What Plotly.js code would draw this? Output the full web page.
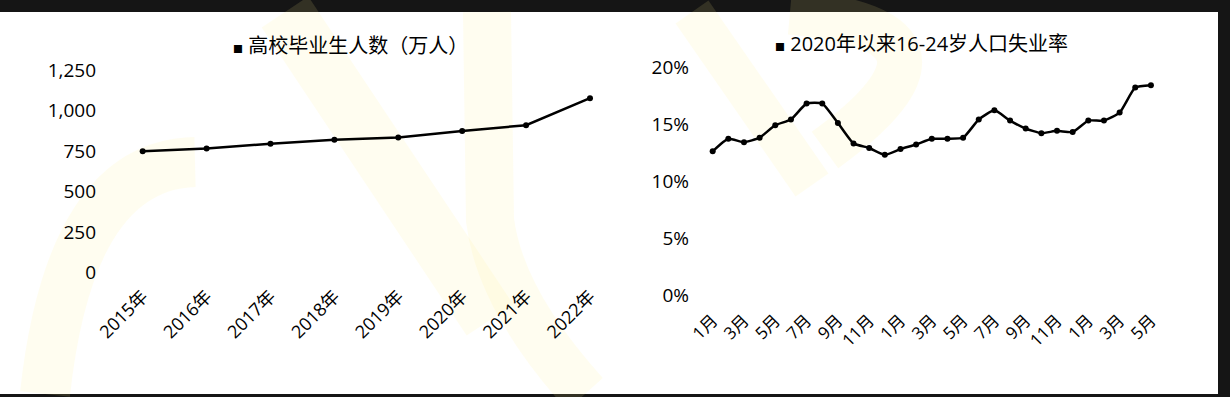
<!DOCTYPE html>
<html>
<head>
<meta charset="utf-8">
<script src="https://cdn.plot.ly/plotly-3.0.1.min.js"></script>
<style>
  html, body { margin: 0; padding: 0; background: #151515; }
  #chart { width: 1230px; height: 397px; }
</style>
</head>
<body>
<div id="chart"></div>
<script>
// ---- Data ----
const years = ['2015年', '2016年', '2017年', '2018年', '2019年', '2020年', '2021年', '2022年'];
const graduates = [749, 765, 795, 820, 834, 874, 909, 1076];

const months = ['1月','2月','3月','4月','5月','6月','7月','8月','9月','10月','11月','12月',
                '1月','2月','3月','4月','5月','6月','7月','8月','9月','10月','11月','12月',
                '1月','2月','3月','4月','5月'];
const unemployment = [12.6, 13.7, 13.4, 13.8, 14.9, 15.4, 16.8, 16.8, 15.1, 13.3, 12.9, 12.3,
                      12.8, 13.2, 13.7, 13.7, 13.8, 15.4, 16.2, 15.3, 14.6, 14.2, 14.4, 14.3,
                      15.3, 15.3, 16.0, 18.2, 18.4];

const gradTicks = [0, 250, 500, 750, 1000, 1250];
const rateTicks = [0, 5, 10, 15, 20];

const leftTitle = '高校毕业生人数（万人）';
const rightTitle = '2020年以来16-24岁人口失业率';

// ---- Helpers ----
const W = 1230, H = 397;
const px = v => v / W;
const py = v => 1 - v / H;

const monthIdx = months.map((m, i) => i);
const tickIdx = monthIdx.filter(i => i % 2 === 0);
const tickTxt = tickIdx.map(i => months[i]);

const FONT = '"Open Sans", "Noto Sans CJK SC", sans-serif';
const wm = 'rgba(255, 238, 140, 0.13)';

const traces = [
  {
    x: years, y: graduates, type: 'scatter', mode: 'lines+markers',
    xaxis: 'x', yaxis: 'y',
    line: { color: '#000000', width: 2.5 },
    marker: { color: '#000000', size: 6 },
    showlegend: false, hoverinfo: 'x+y'
  },
  {
    x: monthIdx, y: unemployment, type: 'scatter', mode: 'lines+markers',
    xaxis: 'x2', yaxis: 'y2',
    line: { color: '#000000', width: 2.5, shape: 'spline', smoothing: 0.5 },
    marker: { color: '#000000', size: 6 },
    showlegend: false, hoverinfo: 'y'
  }
];

const layout = {
  width: W, height: H,
  margin: { l: 0, r: 0, t: 0, b: 0 },
  paper_bgcolor: '#151515',
  plot_bgcolor: 'rgba(0,0,0,0)',
  font: { family: FONT, color: '#000000', size: 19 },
  xaxis: {
    domain: [px(100), px(620)],
    type: 'category',
    range: [-0.668, 7.47],
    showgrid: false, zeroline: false, showline: false, ticks: '',
    tickangle: -45, tickfont: { size: 18 },
    ticklabelstandoff: 8,
    anchor: 'y', fixedrange: true
  },
  yaxis: {
    domain: [py(273.3), py(69.2)],
    range: [-5, 1255],
    tickmode: 'array',
    tickvals: gradTicks,
    ticktext: gradTicks.map(v => v.toLocaleString('en-US')),
    showgrid: false, zeroline: false, showline: false, ticks: '',
    tickfont: { size: 19 },
    ticklabelstandoff: 3,
    anchor: 'x', fixedrange: true
  },
  xaxis2: {
    domain: [px(700), px(1165)],
    range: [-0.81, 28.9],
    tickmode: 'array',
    tickvals: tickIdx, ticktext: tickTxt,
    showgrid: false, zeroline: false, showline: false, ticks: '',
    tickangle: -45, tickfont: { size: 17 },
    ticklabelstandoff: 10,
    anchor: 'y2', fixedrange: true
  },
  yaxis2: {
    domain: [py(296.1), py(65.9)],
    range: [-0.1, 20.1],
    tickmode: 'array',
    tickvals: rateTicks,
    ticktext: rateTicks.map(v => v + '%'),
    showgrid: false, zeroline: false, showline: false, ticks: '',
    tickfont: { size: 19 },
    ticklabelstandoff: 10,
    anchor: 'x2', fixedrange: true
  },
  annotations: [
    {
      xref: 'paper', yref: 'paper', x: px(351), y: py(45),
      xanchor: 'center', yanchor: 'middle', showarrow: false,
      text: '<span style="font-size:10px">■</span> ' + leftTitle,
      font: { family: FONT, size: 20, color: '#000000' }
    },
    {
      xref: 'paper', yref: 'paper', x: px(921), y: py(43),
      xanchor: 'center', yanchor: 'middle', showarrow: false,
      text: '<span style="font-size:10px">■</span> ' + rightTitle,
      font: { family: FONT, size: 20, color: '#000000' }
    }
  ],
  shapes: [
    { type: 'rect', xref: 'paper', yref: 'paper', x0: 0, x1: px(1218), y0: py(394), y1: py(12),
      fillcolor: '#ffffff', line: { width: 0 }, layer: 'below' },
    // faint watermark strokes
    { type: 'path', xref: 'paper', yref: 'paper', layer: 'below',
      path: `M ${px(195)} ${py(162)} Q ${px(70)} ${py(165)} ${px(45)} ${py(394)}`,
      line: { color: wm, width: 50 } },
    { type: 'path', xref: 'paper', yref: 'paper', layer: 'below',
      path: `M ${px(285)} ${py(12)} L ${px(490)} ${py(320)}`,
      line: { color: wm, width: 56 } },
    { type: 'path', xref: 'paper', yref: 'paper', layer: 'below',
      path: `M ${px(487)} ${py(12)} L ${px(490)} ${py(220)} Q ${px(500)} ${py(300)} ${px(585)} ${py(394)}`,
      line: { color: wm, width: 48 } },
    { type: 'path', xref: 'paper', yref: 'paper', layer: 'below',
      path: `M ${px(692)} ${py(12)} L ${px(812)} ${py(185)}`,
      line: { color: wm, width: 40 } },
    { type: 'path', xref: 'paper', yref: 'paper', layer: 'below',
      path: `M ${px(790)} ${py(12)} Q ${px(990)} ${py(30)} ${px(825)} ${py(150)}`,
      line: { color: wm, width: 45 } }
  ]
};

Plotly.newPlot('chart', traces, layout, { displayModeBar: false, staticPlot: true });
</script>
</body>
</html>
